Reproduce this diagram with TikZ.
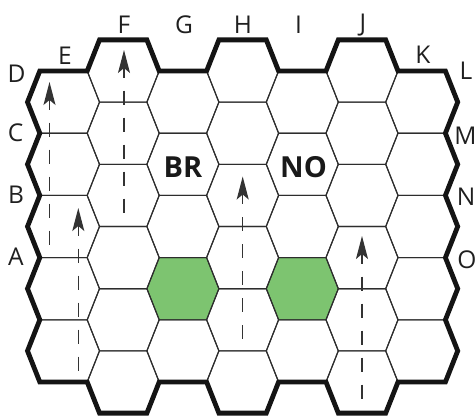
\documentclass[tikz,border=0pt]{standalone}
\usepackage{fontspec}
\setmainfont{Open Sans}
\usetikzlibrary{arrows.meta}
\definecolor{hexgreen}{RGB}{125,196,112}
\definecolor{gridgray}{RGB}{45,45,45}
\tikzset{
  gridline/.style={draw=gridgray,line width=1.1pt,line join=miter},
  border/.style={draw=black!92,line width=4.8pt,line join=miter,miter limit=10},
  lbl/.style={inner sep=0pt,font=\fontsize{24.5}{25}\selectfont,text=black!88},
  big/.style={inner sep=0pt,font=\fontsize{29}{30}\selectfont\bfseries,text=black!90},
  guide/.style={draw=black!80,line width=1.2pt,dash pattern=on 14pt off 13pt,dash phase=4pt,
    {Stealth[length=23pt,width=12pt,inset=5pt]}-},
  hexcell/.pic={\draw[gridline] (-36,0) -- (-23.7,-31.1) -- (23.7,-31.1) -- (36,0) -- (23.7,31.1) -- (-23.7,31.1) -- cycle;},
  greencell/.pic={\fill[hexgreen] (-36,0) -- (-23.7,-31.1) -- (23.7,-31.1) -- (36,0) -- (23.7,31.1) -- (-23.7,31.1) -- cycle;}
}
\begin{document}
\begin{tikzpicture}[x=1pt,y=-1pt]
\useasboundingbox (0,0) rectangle (476,417);
% green cells
\pic at (182.9,288.7) {greencell};
\pic at (302.3,288.7) {greencell};
% grid
\foreach \i in {0,2,4,6}{
  \foreach \j in {0,...,4}{
    \pgfmathsetmacro\cx{63.5+59.7*\i}
    \pgfmathsetmacro\cy{102.1+62.2*\j}
    \pic at (\cx,\cy) {hexcell};
  }
}
\foreach \i in {1,3,5}{
  \foreach \j in {0,...,5}{
    \pgfmathsetmacro\cx{63.5+59.7*\i}
    \pgfmathsetmacro\cy{71+62.2*\j}
    \pic at (\cx,\cy) {hexcell};
  }
}
% border
\draw[border] (39.8,71) -- (87.2,71) -- (99.5,39.9) -- (146.9,39.9) -- (159.2,71) -- (206.6,71)
  -- (218.9,39.9) -- (266.3,39.9) -- (278.6,71) -- (326.0,71) -- (338.3,39.9) -- (385.7,39.9)
  -- (398.0,71) -- (445.4,71)
  -- (457.7,102.1) -- (445.4,133.2) -- (457.7,164.3) -- (445.4,195.4) -- (457.7,226.5)
  -- (445.4,257.6) -- (457.7,288.7) -- (445.4,319.8) -- (457.7,350.9) -- (445.4,382)
  -- (398.0,382) -- (385.7,413.1) -- (338.3,413.1) -- (326.0,382) -- (278.6,382)
  -- (266.3,413.1) -- (218.9,413.1) -- (206.6,382) -- (159.2,382) -- (146.9,413.1)
  -- (99.5,413.1) -- (87.2,382) -- (39.8,382)
  -- (27.5,350.9) -- (39.8,319.8) -- (27.5,288.7) -- (39.8,257.6) -- (27.5,226.5)
  -- (39.8,195.4) -- (27.5,164.3) -- (39.8,133.2) -- (27.5,102.1) -- cycle;
% arrows
\coordinate (t1) at (49.5,82);   \coordinate (b1) at (49.5,252);
\coordinate (t2) at (124,50);    \coordinate (b2) at (124,218);
\coordinate (t3) at (78.3,208);  \coordinate (b3) at (78.3,377);
\coordinate (t4) at (242.7,176.5); \coordinate (b4) at (242.7,344);
\coordinate (t5) at (362,236);   \coordinate (b5) at (362,405);
\foreach \k in {1,...,5}{\draw[guide] (t\k) -- (b\k);}
% labels
\node[lbl] (lD) at (16.5,73.5) {D};
\node[lbl] (lC) at (15.5,132.5) {C};
\node[lbl] (lB) at (16,195) {B};
\node[lbl] (lA) at (16,257) {A};
\node[lbl] (lE) at (65,56) {E};
\node[lbl] (lF) at (124,25) {F};
\node[lbl] (lG) at (184,25) {G};
\node[lbl] (lH) at (243,25) {H};
\node[lbl] (lI) at (298.5,25) {I};
\node[lbl] (lJ) at (363,25) {J};
\node[lbl] (lK) at (423,54.5) {K};
\node[lbl] (lL) at (466,71) {L};
\node[lbl] (lM) at (465.5,136) {M};
\node[lbl] (lN) at (466,197) {N};
\node[lbl] (lO) at (467,260) {O};
\node[big] (br) at (183,167.5) {BR};
\node[big] (no) at (303.5,167.5) {NO};
\end{tikzpicture}
\end{document}
